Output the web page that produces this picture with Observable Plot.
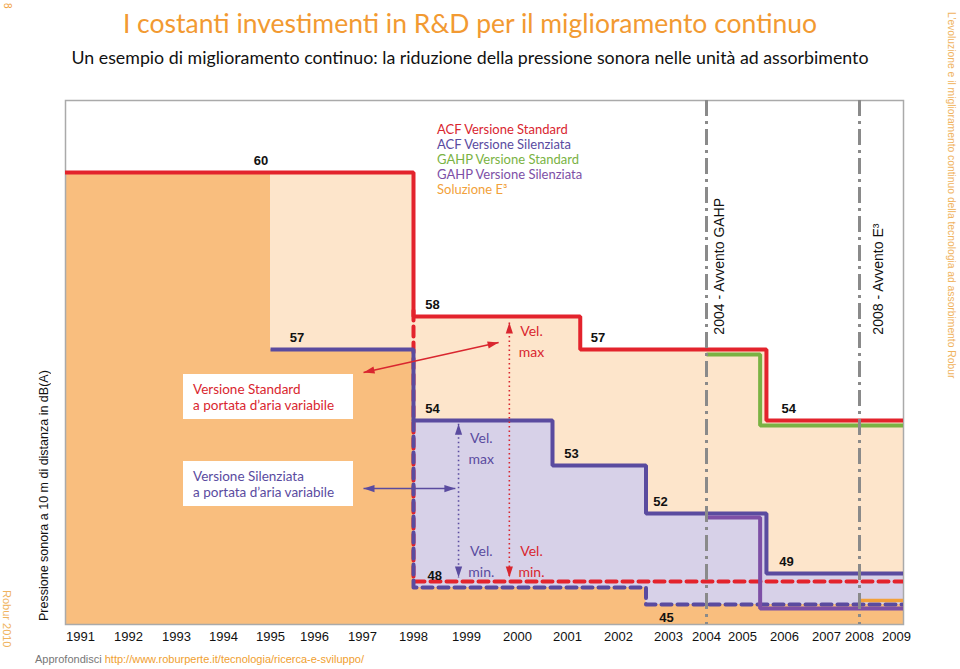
<!DOCTYPE html>
<html><head><meta charset="utf-8">
<script src="https://cdn.jsdelivr.net/npm/d3@7"></script>
<script src="https://cdn.jsdelivr.net/npm/@observablehq/plot@0.6"></script>
<style>
body{margin:0;background:#fff;font-family:Lato,"Open Sans",sans-serif;}
#wrap{position:relative;width:960px;height:669px;overflow:hidden;}
#chart{position:absolute;left:0;top:0;}
.abs{position:absolute;white-space:nowrap;}
#title{left:0;width:940px;top:7px;text-align:center;font-size:26.5px;color:#f29a32;}
#subtitle{left:0;width:940px;top:46px;text-align:center;font-size:17.8px;color:#111;}
#legend{left:437px;top:122px;font-size:13px;line-height:15px;}
.box{position:absolute;left:183px;width:160px;height:45px;background:#fff;padding-left:10px;font-size:13.5px;line-height:16px;box-sizing:content-box;display:flex;flex-direction:column;justify-content:center;}
#ylabel{left:37px;top:370px;height:252px;writing-mode:vertical-rl;transform:rotate(180deg);text-align:center;font-size:12.5px;color:#111;font-family:"Liberation Sans",sans-serif;}
#side{left:946px;top:12px;writing-mode:vertical-rl;font-size:10.3px;color:#f0b35e;font-family:"Liberation Sans",sans-serif;}
#robur{left:1px;top:590px;writing-mode:vertical-rl;font-size:11px;color:#f0b35e;font-family:"Liberation Sans",sans-serif;}
#page{left:2px;top:3px;writing-mode:vertical-rl;font-size:10px;color:#f0a040;font-family:"Liberation Sans",sans-serif;}
#caption{left:35px;top:653px;font-size:11px;color:#777;font-family:"Liberation Sans Narrow","Liberation Sans",sans-serif;}
#caption span{color:#f0a030;}
</style></head>
<body><div id="wrap">
<div id="chart"></div>
<div class="abs" id="page">8</div>
<div class="abs" id="title">I costanti investimenti in R&amp;D per il miglioramento continuo</div>
<div class="abs" id="subtitle">Un esempio di miglioramento continuo: la riduzione della pressione sonora nelle unità ad assorbimento</div>
<div class="abs" id="legend"></div>
<div class="box" style="top:374px;color:#d9262f;"><div>Versione Standard</div><div>a portata d’aria variabile</div></div>
<div class="box" style="top:461px;color:#5a4b9f;"><div>Versione Silenziata</div><div>a portata d’aria variabile</div></div>
<div class="abs" id="ylabel">Pressione sonora a 10 m di distanza in dB(A)</div>
<div class="abs" id="side">L’evoluzione e il miglioramento continuo della tecnologia ad assorbimento Robur</div>
<div class="abs" id="robur">Robur 2010</div>
<div class="abs" id="caption">Approfondisci <span>http://www.roburperte.it/tecnologia/ricerca-e-sviluppo/</span></div>
</div>
<script>
// ---------- data ----------
const tickYears = [1991,1992,1993,1994,1995,1996,1997,1998,1999,2000,2001,2002,2003,2004,2005,2006,2007,2008,2009];

const seriesNames = ["ACF Versione Standard","ACF Versione Silenziata","GAHP Versione Standard","GAHP Versione Silenziata","Soluzione E³"];
const seriesColors = ["#d9262f","#5a4b9f","#7ab243","#7d4fa6","#f2a13a"];

// step series (year where the level starts, dB)
const acfStdYears = [1990, 1998, 2001.25, 2005.57, 2010];
const acfStdDb    = [60, 58, 57, 54, 54];
const acfSilYears = [1995, 1998, 2000.7, 2002.55, 2005.57, 2010];
const acfSilDb    = [57, 54, 53, 52, 49, 49];
const gahpStdYears = [2004, 2005.42, 2010];
const gahpStdDb    = [57, 54, 54];
const gahpSilYears = [2004, 2005.42, 2010];
const gahpSilDb    = [52, 45, 45];
const e3Years = [2008, 2010];
const e3Db    = [45, 45];
// minimum fan speed levels (dashed)
const minStdYears = [1998, 1998, 2010];
const minStdDb    = [58, 48, 48];
const minSilYears = [1998, 1998, 2002.55, 2002.55, 2010];
const minSilDb    = [54, 48, 48, 45, 45];
// base (lowest level reached)
const baseYears = [1990, 1995, 1998, 2002.55, 2010];
const baseDb    = [60, 57, 48, 45, 45];

const milestoneYears  = [2004, 2008];
const milestoneLabels = ["2004 - Avvento GAHP", "2008 - Avvento E³"];

const valueLabels     = ["60","57","58","54","57","53","52","49","54","48"];
const valueLabelYears = [1994.8, 1995.6, 1998.36, 1998.36, 2001.6, 2001.08, 2002.84, 2006.05, 2006.1, 1998.4];
const valueLabelDb    = [60, 57, 58, 54, 57, 53, 52, 49, 54, 48];
const belowLabel = {text: "45", year: 2002.96, db: 45};

const velTexts  = ["Vel.\nmax", "Vel.\nmax", "Vel.\nmin.", "Vel.\nmin."];
const velYears  = [2000.28, 1999.29, 1999.29, 2000.28];
const velDb     = [57.3, 53.42, 49.7, 49.7];
const velColors = ["#d9262f", "#5a4b9f", "#5a4b9f", "#d9262f"];

// dotted speed-range arrows: year, top dB, bottom dB
const rangeArrowYears = [1999.84, 1998.85];
const rangeArrowTop   = [57.82, 53.93];
const rangeArrowBot   = [48.71, 48.71];
const rangeArrowColor = ["#d9262f", "#5a4b9f"];
// callout arrows from the boxes: [year1, db1, year2, db2]
const calloutStd = [1997.02, 56.03, 1999.63, 57.21];
const calloutSil = [1997.02, 52.52, 1998.79, 52.52];

// ---------- helpers ----------
const pts = (xs, ys) => xs.map((x, i) => ({x, y: ys[i]}));
document.getElementById("legend").innerHTML =
  seriesNames.map((n, i) => `<div style="color:${seriesColors[i]}">${n}</div>`).join("");

const arrowHead = {draw(ctx) { ctx.moveTo(0, 0); ctx.lineTo(3.6, 11); ctx.lineTo(-3.6, 11); ctx.closePath(); }};
const heads = [
  {x: rangeArrowYears[0], y: rangeArrowTop[0], r: 0, c: rangeArrowColor[0]},
  {x: rangeArrowYears[0], y: rangeArrowBot[0], r: 180, c: rangeArrowColor[0]},
  {x: rangeArrowYears[1], y: rangeArrowTop[1], r: 0, c: rangeArrowColor[1]},
  {x: rangeArrowYears[1], y: rangeArrowBot[1], r: 180, c: rangeArrowColor[1]},
  {x: calloutStd[0], y: calloutStd[1], r: 257.5, c: "#d9262f"},
  {x: calloutStd[2], y: calloutStd[3], r: 77.5, c: "#d9262f"},
  {x: calloutSil[0], y: calloutSil[1], r: 270, c: "#5a4b9f"},
  {x: calloutSil[2], y: calloutSil[3], r: 90, c: "#5a4b9f"}
];

const stepLine = (data, color, extra = {}) => Plot.line(data, {
  x: "x", y: "y", curve: "step-after", stroke: color, strokeWidth: 4,
  strokeLinejoin: "miter", strokeLinecap: "butt", clip: true, ...extra});
const stepArea = (data, color) => Plot.areaY(data, {
  x: "x", y1: () => 44, y2: "y", curve: "step-after", fill: color, clip: true});

const chart = Plot.plot({
  width: 960, height: 669,
  marginLeft: 65, marginRight: 57, marginTop: 100, marginBottom: 45,
  style: {fontFamily: "Liberation Sans, Arial, sans-serif", fontSize: "13px", color: "#111", background: "transparent"},
  x: {type: "linear", domain: tickYears,
      range: [80,128,176,223,270,314,362,413,466,517,567,618,668,706,742,784,826,859,896], axis: null},
  y: {type: "linear", domain: [44,45,48,49,52,53,54,57,58,60,62],
      range: [624,604,587,573,513,465,420,349,316,172,100], axis: null},
  marks: [
    stepArea(pts(acfStdYears, acfStdDb), "#fde5cb"),
    stepArea(pts(acfSilYears.slice(1), acfSilDb.slice(1)), "#d7d1e8"),
    stepArea(pts(baseYears, baseDb), "#f9be7e"),
    Plot.frame({stroke: "#aaa", strokeWidth: 1.5}),
    Plot.line(pts(minStdYears, minStdDb), {x: "x", y: "y", stroke: "#e3232c", strokeWidth: 4, strokeDasharray: "10,6", dy: -6, clip: true}),
    Plot.line(pts(minSilYears, minSilDb), {x: "x", y: "y", stroke: "#5a4b9f", strokeWidth: 4, strokeDasharray: "10,6", clip: true}),
    stepLine(pts(acfStdYears, acfStdDb), "#e3232c"),
    stepLine(pts(acfSilYears, acfSilDb), "#5a4b9f"),
    stepLine(pts(gahpStdYears, gahpStdDb), "#7ab243", {dy: 5}),
    stepLine(pts(gahpSilYears, gahpSilDb), "#7d4fa6", {dy: 4}),
    stepLine(pts(e3Years, e3Db), "#f2a13a", {dy: -4, strokeWidth: 3.5}),
    Plot.ruleX(milestoneYears, {x: d => d, stroke: "#8a8a8a", strokeWidth: 3, strokeDasharray: "16,5,3,5"}),
    Plot.text([0], {x: () => milestoneYears[0], y: () => 57.45, text: () => milestoneLabels[0], rotate: -90, textAnchor: "start", dx: 13, fontSize: 14, fill: "#111"}),
    Plot.text([0], {x: () => milestoneYears[1], y: () => 57.45, text: () => milestoneLabels[1], rotate: -90, textAnchor: "start", dx: 19, fontSize: 14, fill: "#111"}),
    // dotted speed-range lines
    Plot.link(rangeArrowYears.map((x, i) => ({x, y1: rangeArrowTop[i], y2: rangeArrowBot[i], c: rangeArrowColor[i]})),
      {x1: "x", x2: "x", y1: "y1", y2: "y2", stroke: "c", strokeWidth: 1.6, strokeDasharray: "1.5,3"}),
    // callout lines
    Plot.link([calloutStd], {x1: d => d[0], y1: d => d[1], x2: d => d[2], y2: d => d[3], stroke: "#d9262f", strokeWidth: 1.5}),
    Plot.link([calloutSil], {x1: d => d[0], y1: d => d[1], x2: d => d[2], y2: d => d[3], stroke: "#5a4b9f", strokeWidth: 1.5}),
    Plot.dot(heads, {x: "x", y: "y", rotate: "r", fill: "c", stroke: null, symbol: arrowHead, r: 5}),
    // value labels
    Plot.text(valueLabels, {x: (d, i) => valueLabelYears[i], y: (d, i) => valueLabelDb[i], text: d => d, dy: -12, fontWeight: "bold", fontSize: 13, fill: "#111"}),
    Plot.text([belowLabel], {x: "year", y: "db", text: "text", dy: 13, fontWeight: "bold", fontSize: 13, fill: "#111"}),
    Plot.text(velTexts, {x: (d, i) => velYears[i], y: (d, i) => velDb[i], text: d => d, fill: (d, i) => velColors[i], lineHeight: 1.55, fontSize: 14, fontFamily: "Lato, sans-serif"}),
    // x tick labels
    Plot.text(tickYears, {x: d => d, frameAnchor: "bottom", dy: 16, text: d => String(d), fontSize: 13, fill: "#111"})
  ]
});
document.getElementById("chart").appendChild(chart);
</script>
</body></html>
